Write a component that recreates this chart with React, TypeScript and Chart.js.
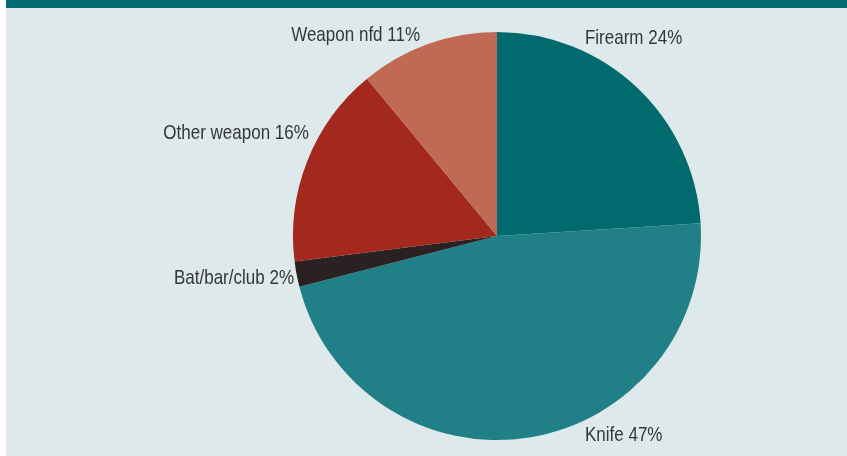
import React, { useEffect, useRef } from "react";
import { Chart, registerables } from "chart.js";

Chart.register(...registerables);

const categories = ["Firearm", "Knife", "Bat/bar/club", "Other weapon", "Weapon nfd"];
const shares = [24, 47, 2, 16, 11];
const sliceColors = ["#006a6e", "#218087", "#2a2122", "#a3281e", "#c06a55"];

// label anchors relative to pie centre, in units of radius
const labelAnchors = [
  { dx: 0.431, dy: -0.97, align: "left" },
  { dx: 0.431, dy: 0.975, align: "left" },
  { dx: -0.995, dy: 0.206, align: "right" },
  { dx: -0.922, dy: -0.505, align: "right" },
  { dx: -0.377, dy: -0.985, align: "right" },
];

const FONT = '"Liberation Sans", Arial, sans-serif';
const SQUEEZE = 0.81;

const backgroundPlugin = {
  id: "panelBg",
  beforeDraw(chart: any) {
    const { ctx, width, height } = chart;
    ctx.save();
    ctx.fillStyle = "#ffffff";
    ctx.fillRect(0, 0, width, height);
    ctx.fillStyle = "#dde9ea";
    ctx.fillRect(6, 0, width - 6, height);
    ctx.fillStyle = "#006a6e";
    ctx.fillRect(6, 0, width - 6, 8);
    ctx.restore();
  },
};

const labelPlugin = {
  id: "sliceLabels",
  afterDatasetsDraw(chart: any) {
    const meta = chart.getDatasetMeta(0);
    const arc = meta.data[0];
    if (!arc) return;
    const { x: cx, y: cy, outerRadius: r } = arc.getProps(["x", "y", "outerRadius"], true);
    const ctx = chart.ctx;
    categories.forEach((c, i) => {
      const a = labelAnchors[i];
      ctx.save();
      ctx.translate(cx + a.dx * r, cy + a.dy * r);
      ctx.scale(SQUEEZE, 1);
      ctx.font = `21px ${FONT}`;
      ctx.fillStyle = "#363636";
      ctx.textBaseline = "middle";
      ctx.textAlign = a.align;
      ctx.fillText(`${c} ${shares[i]}%`, 0, 0);
      ctx.restore();
    });
  },
};

export default function App() {
  const ref = useRef<HTMLCanvasElement>(null);
  useEffect(() => {
    if (!ref.current) return;
    const chart = new Chart(ref.current, {
      type: "pie",
      data: {
        labels: categories,
        datasets: [
          {
            data: shares,
            backgroundColor: sliceColors,
            borderWidth: 0,
          },
        ],
      },
      options: {
        animation: false,
        responsive: false,
        maintainAspectRatio: false,
        layout: { padding: { top: 32, bottom: 16, left: 293, right: 146 } },
        plugins: {
          legend: { display: false },
          tooltip: { enabled: false },
        },
      },
      plugins: [backgroundPlugin, labelPlugin],
    });
    return () => chart.destroy();
  }, []);
  return (
    <div style={{ position: "fixed", left: 0, top: 0, width: 847, height: 456 }}>
      <canvas ref={ref} width={847} height={456} style={{ width: 847, height: 456 }} />
    </div>
  );
}
